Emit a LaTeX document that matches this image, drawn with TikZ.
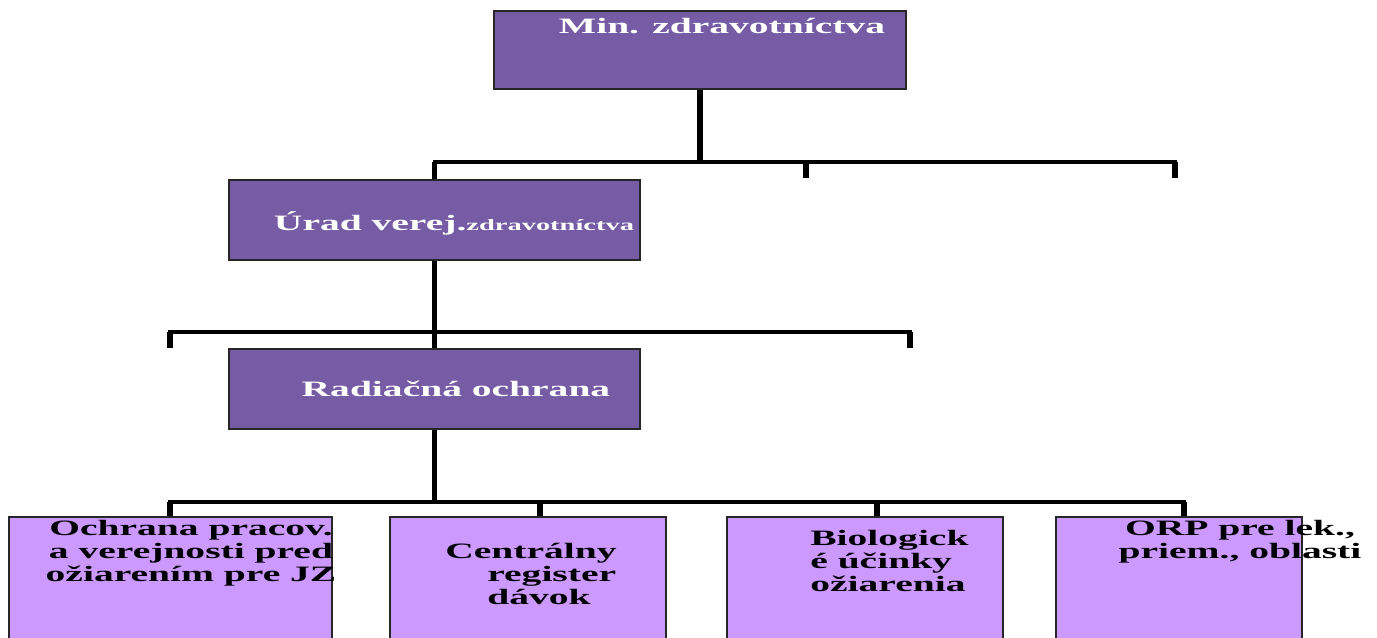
\documentclass[tikz,border=0pt]{standalone}
\usepackage{fontspec}
\setmainfont{Liberation Serif}[FakeStretch=1.8]

\definecolor{darkviolet}{HTML}{765BA5}
\definecolor{lightviolet}{HTML}{CC99FF}

\tikzset{
  headbox/.style={draw=black!85, line width=1.2pt, fill=darkviolet,
    inner sep=0pt, minimum width=8.22cm, minimum height=1.6cm},
  leafbox/.style={draw=black!85, line width=1.2pt, fill=lightviolet,
    inner sep=0pt, minimum height=2.86cm},
  headtxt/.style={text=white, inner sep=0pt, anchor=base,
    font=\bfseries\fontsize{12.5}{13}\selectfont},
  leaftxt/.style={text=black, inner sep=0pt,
    font=\bfseries\fontsize{12.5}{13.1}\selectfont},
  vline/.style={line width=3.4pt},
  hline/.style={line width=2.3pt, line cap=rect}
}

\begin{document}
\begin{tikzpicture}[x=0.02cm, y=-0.02cm]
    \clip (0,0) rectangle (1377,638);

    % 1) The three upper boxes
    \node[headbox, minimum width=8.24cm, minimum height=1.56cm] (minz) at (700,50) {};
    \node[headbox] (urad) at (434.5,220) {};
    \node[headbox] (rad) at (434.5,389) {};

    \node[headtxt] (minztxt) at (722,34) {Min. zdravotníctva};
    \node[headtxt] (uradtxt) at (454,231)
      {Úrad verej.{\fontsize{9}{10}\selectfont zdravotníctva}};
    \node[headtxt] (radtxt) at (456,397) {Radiačná ochrana};

    % 2) The four boxes in the bottom row (cut by the clip)
    \node[leafbox, minimum width=6.46cm] (ochr) at (170.5,588.5) {};
    \node[leafbox, minimum width=5.52cm] (reg) at (528,588.5) {};
    \node[leafbox, minimum width=5.52cm] (bio) at (865,588.5) {};
    \node[leafbox, minimum width=4.92cm] (orp) at (1179,588.5) {};

    \node[leaftxt, align=center, anchor=north] (ochrtxt) at (191,520)
      {Ochrana pracov.\\a verejnosti pred\\ožiarením pre JZ};
    \node[leaftxt, align=left, anchor=north west] (regtxt) at (445,543)
      {Centrálny\\\hspace*{0.84cm}register\\\hspace*{0.84cm}dávok};
    \node[leaftxt, align=left, anchor=north west] (biotxt) at (810,530)
      {Biologick\\é účinky\\ožiarenia};
    \node[leaftxt, align=center, anchor=north] (orptxt) at (1240,520)
      {ORP pre lek.,\\priem., oblasti};

    % 3) First level of the tree
    \coordinate (h1l) at (435,162);
    \coordinate (h1r) at (1175,162);
    \coordinate (e1) at (806,178);
    \coordinate (e2) at (1175,178);
    \draw[vline] (minz.south) -- (minz.south |- h1l);
    \draw[hline] (h1l) -- (h1r);
    \draw[vline] (urad.north |- h1l) -- (urad.north);
    \foreach \e in {e1,e2}
      \draw[vline] (\e |- h1l) -- (\e);

    % 4) Second level
    \coordinate (h2l) at (170,332);
    \coordinate (h2r) at (910,332);
    \coordinate (e3) at (170,348);
    \coordinate (e4) at (910,348);
    \draw[vline] (urad.south) -- (urad.south |- h2l);
    \draw[hline] (h2l) -- (h2r);
    \draw[vline] (rad.north |- h2l) -- (rad.north);
    \foreach \e in {e3,e4}
      \draw[vline] (\e |- h2l) -- (\e);

    % 5) Third level down to the bottom row
    \coordinate (h3l) at (170,502);
    \coordinate (h3r) at (1184,502);
    \draw[vline] (rad.south) -- (rad.south |- h3l);
    \draw[hline] (h3l) -- (h3r);
    \foreach \n/\x in {ochr/170, reg/540, bio/877, orp/1184}
      \draw[vline] (\x,502) -- (\n.north -| \x,0);
\end{tikzpicture}
\end{document}
